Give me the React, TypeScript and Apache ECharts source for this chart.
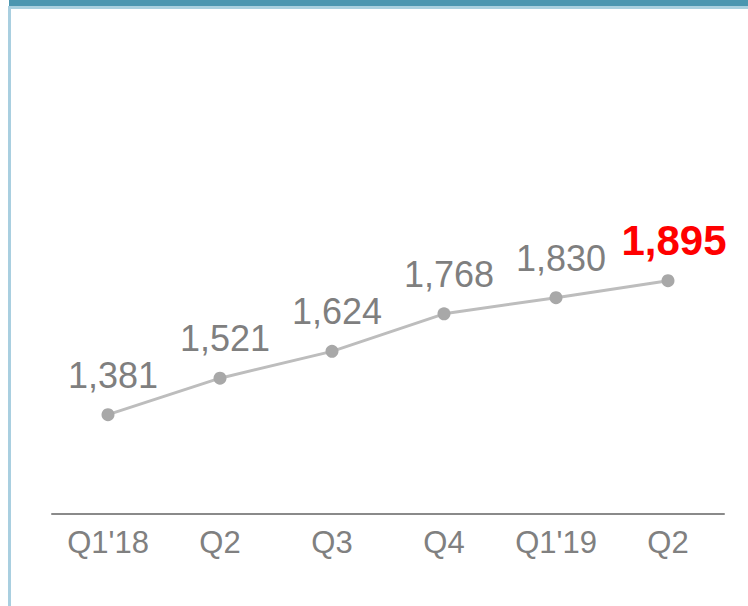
import React, { useEffect, useRef } from "react";
import * as echarts from "echarts";

const categories = ["Q1'18", "Q2", "Q3", "Q4", "Q1'19", "Q2"];
const values = [1381, 1521, 1624, 1768, 1830, 1895];
const highlightIndex = 5;

export default function App() {
  const ref = useRef<HTMLDivElement>(null);
  useEffect(() => {
    document.body.style.margin = "0";
    const chart = echarts.init(ref.current!, undefined, { renderer: "svg" });
    const data = values.map((v, i) =>
      i === highlightIndex
        ? {
            value: v,
            label: {
              color: "#ff0000",
              fontWeight: "bold" as const,
              fontSize: 42,
              distance: 13,
              offset: [6, 0],
            },
          }
        : v
    );
    chart.setOption({
      animation: false,
      backgroundColor: "#ffffff",
      grid: { left: 52, right: 24, top: 123, bottom: 92 },
      xAxis: {
        type: "category",
        data: categories,
        boundaryGap: true,
        axisLine: { show: true, lineStyle: { color: "#8a8a8a", width: 2 } },
        axisTick: { show: false },
        splitLine: { show: false },
        axisLabel: {
          color: "#808080",
          fontSize: 31,
          fontFamily: "Liberation Sans, Arial, sans-serif",
          margin: 13,
        },
      },
      yAxis: {
        type: "value",
        min: 1000,
        max: 2500,
        show: false,
        splitLine: { show: false },
      },
      graphic: [
        { type: "rect", shape: { x: 9, y: 0, width: 739, height: 6 }, style: { fill: "#4b96b0" } },
        { type: "rect", shape: { x: 9, y: 6, width: 739, height: 3 }, style: { fill: "#a9d0df" } },
        { type: "rect", shape: { x: 8, y: 6, width: 3, height: 600 }, style: { fill: "#a9cfe0" } },
      ],
      series: [
        {
          type: "line",
          data,
          symbol: "circle",
          symbolSize: 13,
          itemStyle: { color: "#a8a8a8" },
          lineStyle: { color: "#bdbdbd", width: 3 },
          label: {
            show: true,
            position: "top",
            distance: 15,
            offset: [5, 0],
            color: "#7f7f7f",
            fontSize: 36,
            fontFamily: "Liberation Sans, Arial, sans-serif",
            formatter: (p: any) => Number(p.value).toLocaleString("en-US"),
          },
        },
      ],
    });
    return () => chart.dispose();
  }, []);
  return (
    <div
      ref={ref}
      style={{ position: "fixed", left: 0, top: 0, width: 748, height: 606 }}
    />
  );
}
